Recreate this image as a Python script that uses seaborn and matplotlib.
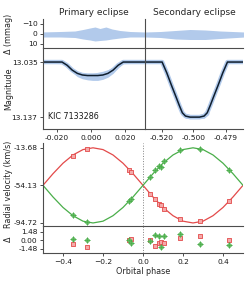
import matplotlib
matplotlib.use("Agg")
import matplotlib.pyplot as plt
import seaborn as sns

# ---------------- data ----------------
# primary eclipse model (phase, magnitude)
prim_phase = [-0.030, -0.017, -0.014, -0.011, -0.008, -0.005, -0.002, 0.001,
              0.004, 0.007, 0.010, 0.013, 0.016, 0.019, 0.032]
prim_mag = [13.035, 13.035, 13.041, 13.050, 13.056, 13.059, 13.060, 13.060,
            13.060, 13.059, 13.056, 13.050, 13.041, 13.035, 13.035]
prim_obs_lo = [13.033, 13.033, 13.038, 13.046, 13.052, 13.055, 13.056, 13.056,
               13.054, 13.052, 13.049, 13.044, 13.037, 13.033, 13.033]
prim_obs_hi = [13.037, 13.038, 13.045, 13.054, 13.062, 13.066, 13.068, 13.069,
               13.069, 13.067, 13.063, 13.056, 13.046, 13.038, 13.037]

# secondary eclipse model
sec_phase = [-0.531, -0.520, -0.517, -0.514, -0.511, -0.509, -0.507, -0.505,
             -0.502, -0.499, -0.496, -0.493, -0.491, -0.489, -0.487, -0.484,
             -0.481, -0.478, -0.467]
sec_mag = [13.035, 13.035, 13.055, 13.078, 13.100, 13.115, 13.129, 13.135,
           13.137, 13.137, 13.137, 13.135, 13.129, 13.115, 13.100, 13.078,
           13.055, 13.035, 13.035]
sec_bot_phase = [-0.508, -0.505, -0.502, -0.499, -0.496, -0.493, -0.490]
sec_bot_lo = [13.124, 13.130, 13.132, 13.132, 13.132, 13.130, 13.124]
sec_bot_hi = [13.132, 13.139, 13.140, 13.140, 13.140, 13.139, 13.132]

# light-curve residual envelopes (mmag)
prim_res_phase = [-0.030, -0.018, -0.0094, -0.0047, -0.0006, 0.0024, 0.0053,
                  0.0088, 0.0124, 0.017, 0.023, 0.032]
prim_res_lo = [-2, -2.5, -3, -4.5, -6, -7, -5.5, -7, -5, -3.5, -2.5, -2]
prim_res_hi = [3, 3, 3.5, 5, 6, 7, 6.5, 6, 5, 4, 3, 3]
sec_res_phase = [-0.531, -0.521, -0.5115, -0.502, -0.4923, -0.4827, -0.467]
sec_res_lo = [-2, -2.5, -3.5, -4.5, -4, -3, -2]
sec_res_hi = [3, 3.5, 5, 5.5, 5.5, 4.5, 3]

prim_ticks = [-0.020, 0.000, 0.020]
prim_ticklabels = ["-0.020", "0.000", "0.020"]
sec_ticks = [-0.520, -0.500, -0.479]
sec_ticklabels = ["-0.520", "-0.500", "-0.479"]
mag_ticks = [13.035, 13.137]
mag_ticklabels = ["13.035", "13.137"]

# radial velocity model curves
rv_phase = [-0.50, -0.45, -0.40, -0.35, -0.30, -0.25, -0.20, -0.15, -0.10, -0.05,
            0.00, 0.05, 0.10, 0.15, 0.20, 0.25, 0.30, 0.35, 0.40, 0.45, 0.50]
red_rv = [-54.13, -41.6, -30.3, -21.4, -15.6, -13.68, -15.6, -21.4, -30.3, -41.6,
          -54.13, -66.7, -78.0, -86.9, -92.8, -94.72, -92.8, -86.9, -78.0, -66.7, -54.13]
green_rv = [-54.13, -66.7, -78.0, -86.9, -92.8, -94.72, -92.8, -86.9, -78.0, -66.7,
            -54.13, -41.6, -30.3, -21.4, -15.6, -13.68, -15.6, -21.4, -30.3, -41.6, -54.13]

# radial velocity observations
obs_phase = [-0.352, -0.278, -0.068, -0.058, 0.036, 0.062, 0.082, 0.088, 0.106,
             0.185, 0.287, 0.432]
red_obs = [-22.5, -15.4, -37.3, -39.5, -63.2, -69.3, -73.8, -75.6, -79.5,
           -90.9, -92.8, -70.8]
green_obs = [-86.3, -94.0, -70.9, -69.0, -45.1, -37.8, -33.5, -34.1, -28.3,
             -15.8, -15.3, -38.1]
red_res = [-0.7, -1.2, 0.0, 0.3, 0.1, -0.9, -0.4, -0.3, -0.5, 0.4, 0.8, 0.1]
green_res = [0.3, 0.1, 0.0, -0.4, -0.1, 0.9, 0.7, -1.2, 0.8, 1.1, -0.6, -0.8]

rv_ticks = [-13.68, -54.13, -94.72]
rv_ticklabels = ["-13.68", "-54.13", "-94.72"]
res_ticks = [1.48, 0.00, -1.48]
res_ticklabels = ["1.48", "0.00", "-1.48"]

# ---------------- style ----------------
sns.set_style("ticks")
plt.rcParams["font.family"] = ["DejaVu Sans"]
SPC = "0.3"
plt.rcParams.update({
    "axes.edgecolor": SPC, "axes.linewidth": 0.8,
    "xtick.color": SPC, "ytick.color": SPC,
    "xtick.labelcolor": "0.1", "ytick.labelcolor": "0.1",
    "xtick.major.size": 2.5, "ytick.major.size": 2.5,
    "xtick.major.width": 0.7, "ytick.major.width": 0.7,
    "xtick.major.pad": 1.5, "ytick.major.pad": 1.5,
    "xtick.labelsize": 5.4, "ytick.labelsize": 5.4,
})

BAND = "#b2caeb"
MODEL = "#0f1e2e"
RED = "#e34a4a"
GREEN = "#4aae4a"
LABFS = 5.8

fig = plt.figure(figsize=(2.49, 2.82), dpi=100)
W, H = 249.0, 282.0


def add_ax(x0, y0, x1, y1):
    return fig.add_axes([x0 / W, 1 - y1 / H, (x1 - x0) / W, (y1 - y0) / H])


ax_pr = add_ax(43, 19, 145, 48)
ax_sr = add_ax(145, 19, 243, 48)
ax_pl = add_ax(43, 48, 145, 129)
ax_sl = add_ax(145, 48, 243, 129)
ax_rv = add_ax(43, 143, 243, 226)
ax_rr = add_ax(43, 226, 243, 253)

for ax in fig.axes:
    ax.patch.set_alpha(0)
    sns.despine(ax=ax, top=True, right=True)

# ---- top residual panels ----
ax_pr.fill_between(prim_res_phase, prim_res_lo, prim_res_hi, color=BAND, lw=0)
ax_sr.fill_between(sec_res_phase, sec_res_lo, sec_res_hi, color=BAND, lw=0)
for ax in (ax_pr, ax_sr):
    ax.set_ylim(14, -15)
    ax.tick_params(axis="x", bottom=False, labelbottom=False)
ax_pr.set_xlim(-0.0282, 0.0318)
ax_sr.set_xlim(-0.531, -0.468)
ax_pr.set_yticks([-10, 0, 10])
ax_sr.tick_params(axis="y", left=False, labelleft=False)
ax_pr.set_title("Primary eclipse", fontsize=6.5, pad=3)
ax_sr.set_title("Secondary eclipse", fontsize=6.5, pad=3)
ax_pr.set_ylabel("Δ (mmag)", fontsize=LABFS)

# ---- light curve panels ----
ax_pl.fill_between(prim_phase, prim_obs_lo, prim_obs_hi, color=BAND, lw=0)
sns.lineplot(x=prim_phase, y=prim_mag, ax=ax_pl, color=BAND, lw=3.2, estimator=None)
sns.lineplot(x=prim_phase, y=prim_mag, ax=ax_pl, color=MODEL, lw=1.1, estimator=None)
ax_sl.fill_between(sec_bot_phase, sec_bot_lo, sec_bot_hi, color=BAND, lw=0)
sns.lineplot(x=sec_phase, y=sec_mag, ax=ax_sl, color=BAND, lw=3.2, estimator=None)
sns.lineplot(x=sec_phase, y=sec_mag, ax=ax_sl, color=MODEL, lw=1.1, estimator=None)
for ax in (ax_pl, ax_sl):
    ax.set_ylim(13.159, 13.009)
ax_pl.set_xlim(-0.0282, 0.0318)
ax_sl.set_xlim(-0.531, -0.468)
ax_pl.set_xticks(prim_ticks)
ax_pl.set_xticklabels(prim_ticklabels)
ax_sl.set_xticks(sec_ticks)
ax_sl.set_xticklabels(sec_ticklabels)
ax_pl.set_yticks(mag_ticks)
ax_pl.set_yticklabels(mag_ticklabels)
ax_sl.tick_params(axis="y", left=False, labelleft=False)
ax_pl.set_ylabel("Magnitude", fontsize=LABFS)
ax_pl.text(0.05, 0.15, "KIC 7133286", transform=ax_pl.transAxes, fontsize=5.8,
           ha="left", va="center", color="0.1")

# ---- radial velocity panel ----
ax_rv.axvline(0, color="0.5", lw=0.7, ls=":")
sns.lineplot(x=rv_phase, y=red_rv, ax=ax_rv, color=RED, lw=0.9, estimator=None)
sns.lineplot(x=rv_phase, y=green_rv, ax=ax_rv, color=GREEN, lw=0.9, estimator=None)


def draw_obs(ax, yr, yg):
    sns.scatterplot(x=obs_phase, y=yr, ax=ax, marker="s", s=8,
                    facecolor="#f4a9a9", edgecolor=RED, linewidth=0.6, zorder=4)
    sns.scatterplot(x=obs_phase, y=yg, ax=ax, marker="D", s=6,
                    facecolor="#a6d8a6", edgecolor=GREEN, linewidth=0.6, zorder=5)
    sns.scatterplot(x=obs_phase, y=yg, ax=ax, marker="+", s=16,
                    color=GREEN, linewidth=0.6, zorder=6)


draw_obs(ax_rv, red_obs, green_obs)
ax_rv.set_xlim(-0.5, 0.5)
ax_rv.set_ylim(-98, -8.5)
ax_rv.set_yticks(rv_ticks)
ax_rv.set_yticklabels(rv_ticklabels)
ax_rv.tick_params(axis="x", bottom=False, labelbottom=False)
ax_rv.set_ylabel("Radial velocity (km/s)", fontsize=LABFS)

# ---- RV residual panel ----
ax_rr.axvline(0, color="0.5", lw=0.7, ls=":")
draw_obs(ax_rr, red_res, green_res)
ax_rr.set_xlim(-0.5, 0.5)
ax_rr.set_ylim(-2.2, 2.5)
ax_rr.set_yticks(res_ticks)
ax_rr.set_yticklabels(res_ticklabels)
ax_rr.set_xticks([-0.4, -0.2, 0.0, 0.2, 0.4])
ax_rr.set_ylabel("Δ", fontsize=LABFS)
ax_rr.set_xlabel("Orbital phase", fontsize=5.8, labelpad=1.5)

# align y labels at same figure x
for ax in (ax_pr, ax_pl):
    ax.yaxis.set_label_coords(-(43 - 13) / 102.0, 0.5)
for ax in (ax_rv, ax_rr):
    ax.yaxis.set_label_coords(-(43 - 13) / 200.0, 0.5)

fig.savefig("out.png", dpi=100)
